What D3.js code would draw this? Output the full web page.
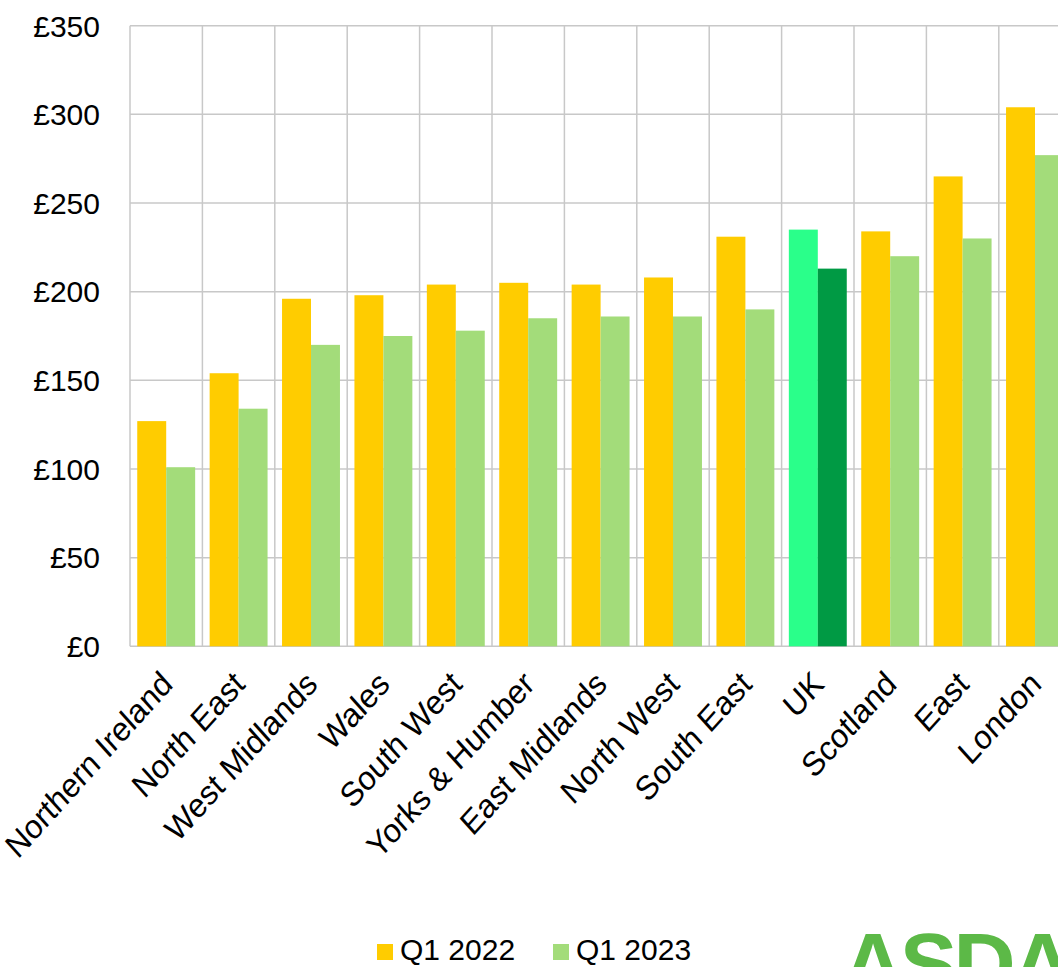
<!DOCTYPE html>
<html>
<head>
<meta charset="utf-8">
<script src="https://cdn.jsdelivr.net/npm/d3@7"></script>
<style>
  body { margin: 0; background: #fff; }
  svg { display: block; font-family: "Liberation Sans", Arial, sans-serif; }
</style>
</head>
<body>
<svg width="1058" height="967"></svg>
<script>
// Data
const regions = ["Northern Ireland", "North East", "West Midlands", "Wales", "South West",
  "Yorks & Humber", "East Midlands", "North West", "South East", "UK", "Scotland", "East", "London"];
const q1_2022 = [127, 154, 196, 198, 204, 205, 204, 208, 231, 235, 234, 265, 304];
const q1_2023 = [101, 134, 170, 175, 178, 185, 186, 186, 190, 213, 220, 230, 277];
const seriesNames = ["Q1 2022", "Q1 2023"];
const yTicks = [0, 50, 100, 150, 200, 250, 300, 350];

// Colours (UK is highlighted in its own greens)
const colours = { "Q1 2022": "#ffcc00", "Q1 2023": "#a3dc7a" };
const ukColours = { "Q1 2022": "#2aff8a", "Q1 2023": "#009a44" };

const width = 1058;
const height = 967;
const left = 130;
const step = 72.4;

const svg = d3.select("svg");

const x = d3.scaleBand()
  .domain(regions)
  .range([left, left + step * regions.length]);

const xInner = d3.scaleBand()
  .domain(seriesNames)
  .range([0, x.bandwidth()])
  .paddingOuter(0.25);

const y = d3.scaleLinear()
  .domain([0, 350])
  .range([646.3, 25.7]);

// Gridlines
const grid = svg.append("g").attr("stroke", "#c8c8c8").attr("stroke-width", 1.5);

grid.selectAll("line.h")
  .data(yTicks)
  .enter()
  .append("line")
  .attr("x1", left)
  .attr("x2", width)
  .attr("y1", d => y(d))
  .attr("y2", d => y(d));

grid.selectAll("line.v")
  .data(regions.concat(["_end"]))
  .enter()
  .append("line")
  .attr("x1", (d, i) => left + i * x.step())
  .attr("x2", (d, i) => left + i * x.step())
  .attr("y1", y(350))
  .attr("y2", y(0));

// Bars
const rows = regions.map((r, i) => ({ region: r, values: [q1_2022[i], q1_2023[i]] }));

const groups = svg.selectAll("g.region")
  .data(rows)
  .enter()
  .append("g")
  .attr("class", "region")
  .attr("transform", d => `translate(${x(d.region)},0)`);

groups.selectAll("rect")
  .data(d => d.values.map((v, j) => ({ region: d.region, series: seriesNames[j], value: v })))
  .enter()
  .append("rect")
  .attr("x", d => xInner(d.series))
  .attr("width", xInner.bandwidth())
  .attr("y", d => y(d.value))
  .attr("height", d => y(0) - y(d.value))
  .attr("fill", d => d.region === "UK" ? ukColours[d.series] : colours[d.series]);

// Y axis labels
svg.selectAll("text.ytick")
  .data(yTicks)
  .enter()
  .append("text")
  .attr("x", 100)
  .attr("y", d => y(d))
  .attr("dy", "0.36em")
  .attr("text-anchor", "end")
  .style("font-size", "30px")
  .text(d => "£" + d);

// X axis labels, rotated (slightly condensed, as in the original)
svg.selectAll("text.xtick")
  .data(regions)
  .enter()
  .append("text")
  .attr("transform", d => `translate(${x(d) + x.bandwidth() / 2 + 8},686) scale(0.9,1) rotate(-45)`)
  .attr("text-anchor", "end")
  .style("font-size", "34px")
  .text(d => d);

// Legend
const legend = svg.append("g");
const legendX = [377, 553];
seriesNames.forEach((s, i) => {
  legend.append("rect")
    .attr("x", legendX[i])
    .attr("y", 944)
    .attr("width", 16)
    .attr("height", 16)
    .attr("fill", colours[s]);
  legend.append("text")
    .attr("x", legendX[i] + 23)
    .attr("y", 960)
    .style("font-size", "30px")
    .text(s);
});

// Logo, cut off by the bottom edge
svg.append("text")
  .attr("x", 842)
  .attr("y", 993)
  .style("font-size", "86px")
  .style("font-weight", "bold")
  .style("letter-spacing", "-4px")
  .attr("fill", "#5cb947")
  .text("ASDA");
</script>
</body>
</html>
